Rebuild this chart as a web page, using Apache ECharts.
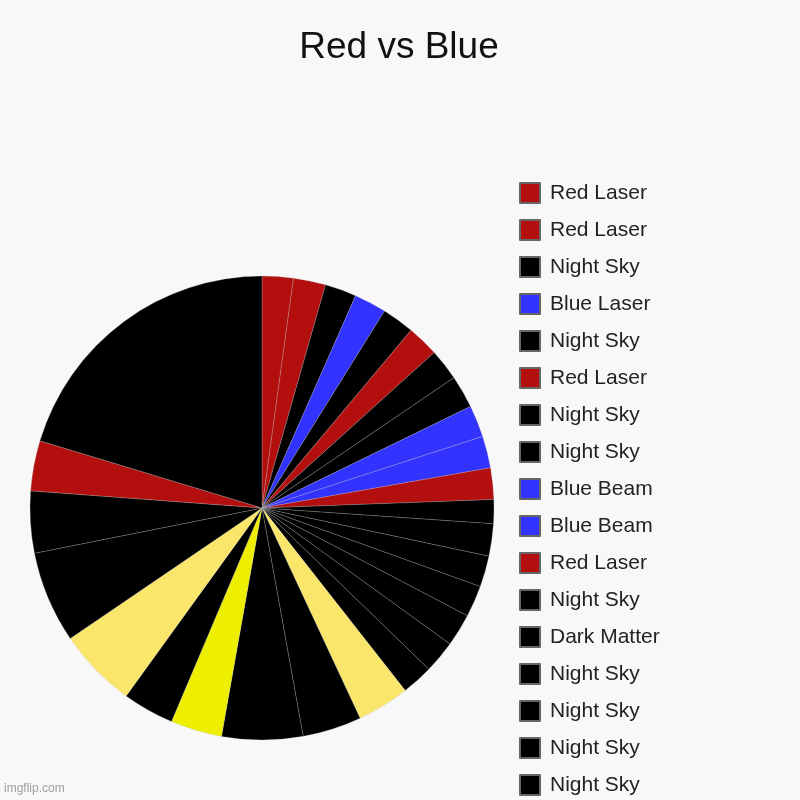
<!DOCTYPE html>
<html>
<head>
<meta charset="utf-8">
<title>Red vs Blue</title>
<script src="https://cdn.jsdelivr.net/npm/echarts@6/dist/echarts.min.js"></script>
<style>
  html, body { margin: 0; padding: 0; background: #f8f8f8; }
  #chart { width: 800px; height: 800px; }
</style>
</head>
<body>
<div id="chart"></div>
<script>
// slice names (legend order = clockwise order from 12 o'clock)
const sliceNames = [
  'Red Laser', 'Red Laser', 'Night Sky', 'Blue Laser', 'Night Sky',
  'Red Laser', 'Night Sky', 'Night Sky', 'Blue Beam', 'Blue Beam',
  'Red Laser', 'Night Sky', 'Dark Matter', 'Night Sky', 'Night Sky',
  'Night Sky', 'Night Sky', 'Night Sky', 'Star Light', 'Night Sky',
  'Night Sky', 'Yellow Laser', 'Night Sky', 'Star Light', 'Night Sky',
  'Night Sky', 'Red Laser', 'Night Sky'
];

// slice sizes (degrees of the circle)
const sliceValues = [
  7.8, 8.1, 7.9, 8.1, 8.1,
  7.95, 7.9, 8.2, 8.0, 8.0,
  7.9, 6.0, 8.1, 7.8, 7.9,
  8.2, 8.1, 7.9, 13.1, 14.8,
  20.3, 12.9, 12.9, 19.9, 23.0,
  15.5, 12.6, 73.2
];

// fill per slice
const RED = '#b40f0f', BLUE = '#3333ff', BLACK = '#000000', PALE = '#fbe66c', YEL = '#eeee00';
const sliceColors = [
  RED, RED, BLACK, BLUE, BLACK,
  RED, BLACK, BLACK, BLUE, BLUE,
  RED, BLACK, BLACK, BLACK, BLACK,
  BLACK, BLACK, BLACK, PALE, BLACK,
  BLACK, YEL, BLACK, PALE, BLACK,
  BLACK, RED, BLACK
];

const myChart = echarts.init(document.getElementById('chart'));

// legend merges equal names, so each slice gets a "#index" key that the formatter hides
let pieData = [];
sliceNames.forEach((name, idx) => {
  pieData.push({
    name: name + '#' + idx,
    value: sliceValues[idx],
    itemStyle: { color: sliceColors[idx] }
  });
});

const option = {
  backgroundColor: '#f8f8f8',
  animation: false,
  title: {
    text: 'Red vs Blue',
    left: 394,
    top: 24,
    textAlign: 'center',
    textStyle: {
      fontFamily: 'Liberation Sans, Arial, sans-serif',
      fontSize: 37,
      fontWeight: 'normal',
      color: '#111'
    }
  },
  legend: {
    orient: 'vertical',
    left: 519,
    top: 182,
    height: 2000,
    padding: 0,
    itemWidth: 20,
    itemHeight: 20,
    itemGap: 15,
    icon: 'rect',
    selectedMode: false,
    itemStyle: { borderColor: '#666', borderWidth: 2 },
    formatter: (name) => name.split('#')[0],
    textStyle: {
      fontFamily: 'Liberation Sans, Arial, sans-serif',
      fontSize: 21,
      lineHeight: 20,
      color: '#222',
      padding: [0, 0, 0, 5]
    },
    data: pieData.map((item) => item.name)
  },
  graphic: [
    {
      type: 'text',
      left: 4,
      top: 783,
      style: {
        text: 'imgflip.com',
        fontFamily: 'Liberation Sans, Arial, sans-serif',
        fontSize: 12,
        fill: '#a0a0a0'
      }
    }
  ],
  series: [
    {
      type: 'pie',
      center: [262, 508],
      radius: 232,
      startAngle: 90,
      clockwise: true,
      avoidLabelOverlap: false,
      label: { show: false },
      labelLine: { show: false },
      emphasis: { disabled: true },
      itemStyle: { borderColor: 'rgba(190,190,190,0.5)', borderWidth: 0.5 },
      data: pieData
    }
  ]
};

myChart.setOption(option);
</script>
</body>
</html>
